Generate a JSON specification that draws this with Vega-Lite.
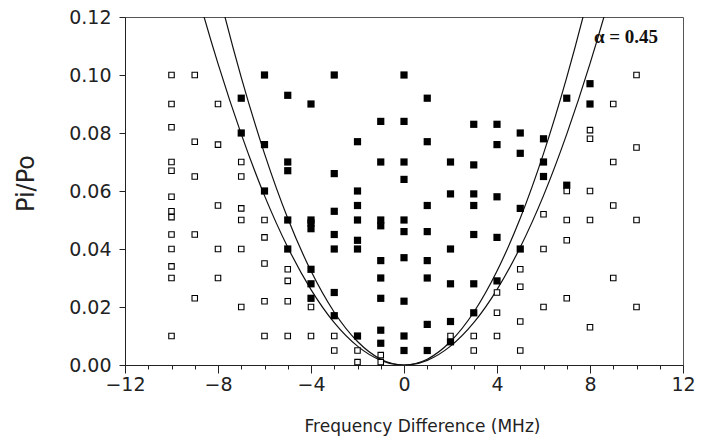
{
  "$schema": "https://vega.github.io/schema/vega-lite/v6.json",
  "autosize": "none",
  "width": 558,
  "height": 348,
  "padding": {"left": 125, "top": 17, "right": 25, "bottom": 73},
  "background": "white",
  "config": {
    "view": {"stroke": "#555", "strokeWidth": 1},
    "axis": {
      "labelFont": "DejaVu Sans",
      "titleFont": "DejaVu Sans",
      "labelColor": "#222",
      "titleColor": "#222",
      "titleFontWeight": "normal",
      "domainColor": "#222",
      "tickColor": "#222",
      "grid": false
    }
  },
  "datasets": {
    "pts": [
      {"f": -10, "p": 0.100, "t": "open"}, {"f": -10, "p": 0.090, "t": "open"}, {"f": -10, "p": 0.082, "t": "open"},
      {"f": -10, "p": 0.070, "t": "open"}, {"f": -10, "p": 0.067, "t": "open"}, {"f": -10, "p": 0.058, "t": "open"},
      {"f": -10, "p": 0.053, "t": "open"}, {"f": -10, "p": 0.051, "t": "open"}, {"f": -10, "p": 0.045, "t": "open"},
      {"f": -10, "p": 0.040, "t": "open"}, {"f": -10, "p": 0.034, "t": "open"}, {"f": -10, "p": 0.030, "t": "open"},
      {"f": -10, "p": 0.010, "t": "open"},
      {"f": -9, "p": 0.100, "t": "open"}, {"f": -9, "p": 0.077, "t": "open"}, {"f": -9, "p": 0.065, "t": "open"},
      {"f": -9, "p": 0.045, "t": "open"}, {"f": -9, "p": 0.023, "t": "open"},
      {"f": -8, "p": 0.090, "t": "open"}, {"f": -8, "p": 0.076, "t": "open"}, {"f": -8, "p": 0.055, "t": "open"},
      {"f": -8, "p": 0.040, "t": "open"}, {"f": -8, "p": 0.030, "t": "open"},
      {"f": -7, "p": 0.092, "t": "filled"}, {"f": -7, "p": 0.080, "t": "filled"},
      {"f": -7, "p": 0.070, "t": "open"}, {"f": -7, "p": 0.065, "t": "open"}, {"f": -7, "p": 0.054, "t": "open"},
      {"f": -7, "p": 0.050, "t": "open"}, {"f": -7, "p": 0.040, "t": "open"}, {"f": -7, "p": 0.020, "t": "open"},
      {"f": -6, "p": 0.100, "t": "filled"}, {"f": -6, "p": 0.076, "t": "filled"}, {"f": -6, "p": 0.060, "t": "filled"},
      {"f": -6, "p": 0.050, "t": "open"}, {"f": -6, "p": 0.044, "t": "open"}, {"f": -6, "p": 0.035, "t": "open"},
      {"f": -6, "p": 0.022, "t": "open"}, {"f": -6, "p": 0.010, "t": "open"},
      {"f": -5, "p": 0.093, "t": "filled"}, {"f": -5, "p": 0.070, "t": "filled"}, {"f": -5, "p": 0.067, "t": "filled"},
      {"f": -5, "p": 0.050, "t": "filled"}, {"f": -5, "p": 0.040, "t": "filled"},
      {"f": -5, "p": 0.033, "t": "open"}, {"f": -5, "p": 0.029, "t": "open"}, {"f": -5, "p": 0.022, "t": "open"},
      {"f": -5, "p": 0.010, "t": "open"},
      {"f": -4, "p": 0.090, "t": "filled"}, {"f": -4, "p": 0.050, "t": "filled"}, {"f": -4, "p": 0.049, "t": "filled"},
      {"f": -4, "p": 0.047, "t": "filled"}, {"f": -4, "p": 0.033, "t": "filled"}, {"f": -4, "p": 0.028, "t": "filled"},
      {"f": -4, "p": 0.023, "t": "filled"}, {"f": -4, "p": 0.020, "t": "open"}, {"f": -4, "p": 0.010, "t": "open"},
      {"f": -3, "p": 0.100, "t": "filled"}, {"f": -3, "p": 0.066, "t": "filled"}, {"f": -3, "p": 0.053, "t": "filled"},
      {"f": -3, "p": 0.045, "t": "filled"}, {"f": -3, "p": 0.040, "t": "filled"}, {"f": -3, "p": 0.025, "t": "filled"},
      {"f": -3, "p": 0.017, "t": "filled"}, {"f": -3, "p": 0.010, "t": "open"}, {"f": -3, "p": 0.005, "t": "open"},
      {"f": -2, "p": 0.077, "t": "filled"}, {"f": -2, "p": 0.060, "t": "filled"}, {"f": -2, "p": 0.055, "t": "filled"},
      {"f": -2, "p": 0.050, "t": "filled"}, {"f": -2, "p": 0.043, "t": "filled"}, {"f": -2, "p": 0.040, "t": "filled"},
      {"f": -2, "p": 0.010, "t": "filled"}, {"f": -2, "p": 0.005, "t": "open"}, {"f": -2, "p": 0.001, "t": "open"},
      {"f": -1, "p": 0.084, "t": "filled"}, {"f": -1, "p": 0.070, "t": "filled"}, {"f": -1, "p": 0.050, "t": "filled"},
      {"f": -1, "p": 0.048, "t": "filled"}, {"f": -1, "p": 0.036, "t": "filled"}, {"f": -1, "p": 0.030, "t": "filled"},
      {"f": -1, "p": 0.023, "t": "filled"}, {"f": -1, "p": 0.012, "t": "filled"}, {"f": -1, "p": 0.0075, "t": "filled"},
      {"f": -1, "p": 0.0034, "t": "open"}, {"f": -1, "p": 0.001, "t": "open"},
      {"f": 0, "p": 0.100, "t": "filled"}, {"f": 0, "p": 0.084, "t": "filled"}, {"f": 0, "p": 0.070, "t": "filled"},
      {"f": 0, "p": 0.064, "t": "filled"}, {"f": 0, "p": 0.050, "t": "filled"}, {"f": 0, "p": 0.046, "t": "filled"},
      {"f": 0, "p": 0.037, "t": "filled"}, {"f": 0, "p": 0.022, "t": "filled"}, {"f": 0, "p": 0.010, "t": "filled"},
      {"f": 0, "p": 0.005, "t": "filled"},
      {"f": 1, "p": 0.092, "t": "filled"}, {"f": 1, "p": 0.077, "t": "filled"}, {"f": 1, "p": 0.055, "t": "filled"},
      {"f": 1, "p": 0.046, "t": "filled"}, {"f": 1, "p": 0.036, "t": "filled"}, {"f": 1, "p": 0.030, "t": "filled"},
      {"f": 1, "p": 0.014, "t": "filled"}, {"f": 1, "p": 0.005, "t": "filled"},
      {"f": 2, "p": 0.070, "t": "filled"}, {"f": 2, "p": 0.059, "t": "filled"}, {"f": 2, "p": 0.040, "t": "filled"},
      {"f": 2, "p": 0.028, "t": "filled"}, {"f": 2, "p": 0.015, "t": "filled"}, {"f": 2, "p": 0.008, "t": "filled"},
      {"f": 2, "p": 0.010, "t": "open"},
      {"f": 3, "p": 0.083, "t": "filled"}, {"f": 3, "p": 0.069, "t": "filled"}, {"f": 3, "p": 0.059, "t": "filled"},
      {"f": 3, "p": 0.055, "t": "filled"}, {"f": 3, "p": 0.045, "t": "filled"}, {"f": 3, "p": 0.028, "t": "filled"},
      {"f": 3, "p": 0.018, "t": "filled"}, {"f": 3, "p": 0.010, "t": "open"}, {"f": 3, "p": 0.005, "t": "open"},
      {"f": 4, "p": 0.083, "t": "filled"}, {"f": 4, "p": 0.076, "t": "filled"}, {"f": 4, "p": 0.058, "t": "filled"},
      {"f": 4, "p": 0.044, "t": "filled"}, {"f": 4, "p": 0.029, "t": "filled"},
      {"f": 4, "p": 0.025, "t": "open"}, {"f": 4, "p": 0.018, "t": "open"}, {"f": 4, "p": 0.010, "t": "open"},
      {"f": 5, "p": 0.080, "t": "filled"}, {"f": 5, "p": 0.073, "t": "filled"}, {"f": 5, "p": 0.054, "t": "filled"},
      {"f": 5, "p": 0.040, "t": "filled"},
      {"f": 5, "p": 0.033, "t": "open"}, {"f": 5, "p": 0.027, "t": "open"}, {"f": 5, "p": 0.015, "t": "open"},
      {"f": 5, "p": 0.005, "t": "open"},
      {"f": 6, "p": 0.078, "t": "filled"}, {"f": 6, "p": 0.070, "t": "filled"}, {"f": 6, "p": 0.065, "t": "filled"},
      {"f": 6, "p": 0.052, "t": "open"}, {"f": 6, "p": 0.040, "t": "open"}, {"f": 6, "p": 0.020, "t": "open"},
      {"f": 7, "p": 0.092, "t": "filled"}, {"f": 7, "p": 0.062, "t": "filled"},
      {"f": 7, "p": 0.060, "t": "open"}, {"f": 7, "p": 0.050, "t": "open"}, {"f": 7, "p": 0.043, "t": "open"},
      {"f": 7, "p": 0.023, "t": "open"},
      {"f": 8, "p": 0.097, "t": "filled"}, {"f": 8, "p": 0.090, "t": "filled"},
      {"f": 8, "p": 0.081, "t": "open"}, {"f": 8, "p": 0.078, "t": "open"}, {"f": 8, "p": 0.060, "t": "open"},
      {"f": 8, "p": 0.050, "t": "open"}, {"f": 8, "p": 0.013, "t": "open"},
      {"f": 9, "p": 0.090, "t": "open"}, {"f": 9, "p": 0.070, "t": "open"}, {"f": 9, "p": 0.055, "t": "open"},
      {"f": 9, "p": 0.030, "t": "open"},
      {"f": 10, "p": 0.100, "t": "open"}, {"f": 10, "p": 0.075, "t": "open"}, {"f": 10, "p": 0.050, "t": "open"},
      {"f": 10, "p": 0.020, "t": "open"}
    ],
    "curves": [
      {"f": -10, "p": 0.1623, "c": "outer"}, {"f": -9, "p": 0.1315, "c": "outer"}, {"f": -8, "p": 0.1039, "c": "outer"},
      {"f": -7, "p": 0.0796, "c": "outer"}, {"f": -6, "p": 0.0584, "c": "outer"}, {"f": -5, "p": 0.0406, "c": "outer"},
      {"f": -4, "p": 0.0260, "c": "outer"}, {"f": -3, "p": 0.0146, "c": "outer"}, {"f": -2, "p": 0.0065, "c": "outer"},
      {"f": -1, "p": 0.0016, "c": "outer"}, {"f": 0, "p": 0.0, "c": "outer"}, {"f": 1, "p": 0.0016, "c": "outer"},
      {"f": 2, "p": 0.0065, "c": "outer"}, {"f": 3, "p": 0.0146, "c": "outer"}, {"f": 4, "p": 0.0260, "c": "outer"},
      {"f": 5, "p": 0.0406, "c": "outer"}, {"f": 6, "p": 0.0584, "c": "outer"}, {"f": 7, "p": 0.0796, "c": "outer"},
      {"f": 8, "p": 0.1039, "c": "outer"}, {"f": 9, "p": 0.1315, "c": "outer"}, {"f": 10, "p": 0.1623, "c": "outer"},
      {"f": -9, "p": 0.1640, "c": "inner"}, {"f": -8, "p": 0.1296, "c": "inner"}, {"f": -7, "p": 0.0992, "c": "inner"},
      {"f": -6, "p": 0.0729, "c": "inner"}, {"f": -5, "p": 0.0506, "c": "inner"}, {"f": -4, "p": 0.0324, "c": "inner"},
      {"f": -3, "p": 0.0182, "c": "inner"}, {"f": -2, "p": 0.0081, "c": "inner"}, {"f": -1, "p": 0.0020, "c": "inner"},
      {"f": 0, "p": 0.0, "c": "inner"}, {"f": 1, "p": 0.0020, "c": "inner"}, {"f": 2, "p": 0.0081, "c": "inner"},
      {"f": 3, "p": 0.0182, "c": "inner"}, {"f": 4, "p": 0.0324, "c": "inner"}, {"f": 5, "p": 0.0506, "c": "inner"},
      {"f": 6, "p": 0.0729, "c": "inner"}, {"f": 7, "p": 0.0992, "c": "inner"}, {"f": 8, "p": 0.1296, "c": "inner"},
      {"f": 9, "p": 0.1640, "c": "inner"}
    ],
    "notes": [
      {"f": 9.55, "p": 0.113, "label": "α = 0.45"}
    ]
  },
  "encoding": {
    "x": {
      "field": "f", "type": "quantitative",
      "scale": {"domain": [-12, 12], "nice": false, "zero": false},
      "axis": {
        "title": "Frequency Difference (MHz)",
        "values": [-12,-11,-10,-9,-8,-7,-6,-5,-4,-3,-2,-1,0,1,2,3,4,5,6,7,8,9,10,11,12],
        "labelExpr": "datum.value % 4 === 0 ? datum.label : ''",
        "tickSize": {"condition": {"test": "datum.value % 4 === 0", "value": 8}, "value": 4},
        "labelPadding": 2,
        "labelFontSize": 19,
        "labelFlush": false,
        "titleFontSize": 17,
        "titlePadding": 24,
        "titleX": 297
      }
    },
    "y": {
      "field": "p", "type": "quantitative",
      "scale": {"domain": [0, 0.12], "nice": false},
      "axis": {
        "title": "Pi/Po",
        "values": [0, 0.02, 0.04, 0.06, 0.08, 0.10, 0.12],
        "format": ".2f",
        "tickSize": 6,
        "labelPadding": 8,
        "labelFontSize": 19,
        "titleFontSize": 24,
        "titlePadding": 30,
        "titleY": 166
      }
    }
  },
  "layer": [
    {
      "data": {"name": "curves"},
      "mark": {"type": "line", "color": "#111", "strokeWidth": 1.2, "interpolate": "natural", "clip": true},
      "encoding": {"detail": {"field": "c"}}
    },
    {
      "data": {"name": "pts"},
      "transform": [{"filter": "datum.t === 'filled'"}],
      "mark": {"type": "point", "shape": "square", "filled": true, "color": "#000", "size": 52, "opacity": 1}
    },
    {
      "data": {"name": "pts"},
      "transform": [{"filter": "datum.t === 'open'"}],
      "mark": {"type": "point", "shape": "square", "filled": false, "fill": "white", "fillOpacity": 1, "stroke": "#000", "strokeWidth": 1.1, "size": 30, "opacity": 1}
    },
    {
      "data": {"name": "notes"},
      "mark": {"type": "text", "font": "Liberation Serif", "fontSize": 19, "fontWeight": "bold", "color": "#111", "align": "center", "baseline": "middle"},
      "encoding": {"text": {"field": "label"}}
    }
  ]
}
